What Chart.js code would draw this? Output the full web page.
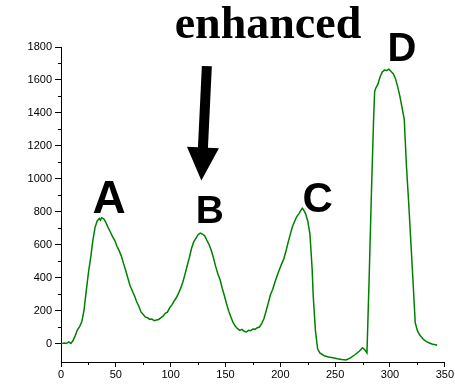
<!DOCTYPE html>
<html>
  <head>
    <title>Peaks</title>
    <script src="https://cdn.jsdelivr.net/npm/chart.js"></script>
    <style>
      body { margin: 0; background: #fff; }
      #wrap { width: 455px; height: 386px; position: relative; }
    </style>
  </head>
  <body>
    <div id="wrap"><canvas id="peaks"></canvas></div>
    <script>
      // channel positions and intensities
      const xs = [0, 3, 5, 7, 9, 11, 13, 15, 17, 19, 21, 23, 25, 27, 29, 31, 33, 35, 36, 37, 39, 41, 43, 45, 47, 49,
        51, 53, 55, 57, 59, 61, 63, 65, 67, 69, 71, 73, 75, 77, 79, 81, 83, 85, 87, 89, 91, 93, 95, 97, 99,
        101, 103, 105, 107, 109, 111, 113, 115, 117, 119, 121, 123, 125, 127, 129, 131, 133, 135, 137, 139,
        141, 143, 145, 147, 149, 151, 153, 155, 157, 159, 161, 163, 165, 167, 169, 171, 173, 175, 177, 179,
        181, 183, 185, 187, 189, 191, 193, 195, 197, 199, 201, 203, 205, 207, 209, 211, 213, 215, 217, 219,
        220, 221, 223, 225, 227, 229, 230, 232, 234, 236, 240, 244, 248, 252, 256, 260, 264, 268, 272, 275,
        277, 279, 281, 283, 285, 286, 287, 289, 291, 293, 295, 297, 299, 301, 303, 305, 307, 309, 311, 313,
        315, 317, 319, 321, 323, 325, 327, 329, 331, 333, 335, 337, 339, 341, 343]
      const ys = [0, 5, 2, 12, 3, 20, 50, 85, 105, 135, 205, 320, 430, 520, 625, 705, 745, 760, 750, 765, 758, 735, 705, 678, 650, 628,
        592, 565, 532, 488, 445, 398, 352, 322, 292, 255, 228, 192, 178, 162, 158, 148, 150, 140, 145, 148, 158, 168, 185, 192, 218,
        235, 258, 278, 305, 335, 372, 420, 472, 522, 578, 618, 640, 662, 672, 666, 655, 628, 602, 568, 522,
        470, 425, 390, 338, 292, 242, 198, 162, 128, 106, 92, 82, 88, 76, 72, 82, 80, 90, 88, 98,
        102, 122, 152, 198, 248, 298, 330, 372, 412, 448, 482, 512, 558, 612, 662, 710, 742, 772, 790, 812,
        822, 815, 790, 745, 665, 455, 290, 80, -30, -55, -72, -80, -84, -90, -95, -98, -85, -66, -45, -24,
        -36, -55, 400, 900, 1350, 1530, 1550, 1575, 1620, 1648, 1660, 1658, 1665, 1652, 1638, 1608, 1560, 1502, 1432, 1362,
        1080, 860, 620, 380, 128, 80, 55, 38, 24, 15, 8, 2, -2, -4, -8]

      const xTicks = [0, 50, 100, 150, 200, 250, 300, 350]
      const yTicks = [0, 200, 400, 600, 800, 1000, 1200, 1400, 1600, 1800]

      // labels placed in data coordinates
      const peakLabels = ['A', 'B', 'C', 'D']
      const peakLabelX = [43.8, 135.8, 234, 311]
      const peakLabelY = [796, 735, 802, 1714]
      const peakLabelSize = [46, 39, 42, 40]

      const lineColor = '#008000'
      const tickFont = { family: 'Arial, "Liberation Sans"', size: 11 }

      const annotate = {
        id: 'annotate',
        afterDraw(chart) {
          const ctx = chart.ctx
          const x = chart.scales.x
          const y = chart.scales.y
          ctx.save()

          // minor ticks
          ctx.strokeStyle = '#000'
          ctx.lineWidth = 1
          ctx.beginPath()
          for (let v = 100; v < 1800; v += 200) {
            const py = Math.round(y.getPixelForValue(v)) + 0.5
            ctx.moveTo(x.left - 3, py)
            ctx.lineTo(x.left, py)
          }
          for (let v = 25; v < 350; v += 50) {
            const px = Math.round(x.getPixelForValue(v)) + 0.5
            ctx.moveTo(px, y.bottom)
            ctx.lineTo(px, y.bottom + 3)
          }
          ctx.stroke()

          ctx.fillStyle = '#000'
          ctx.textAlign = 'center'
          ctx.textBaseline = 'alphabetic'
          peakLabels.forEach((t, i) => {
            ctx.font = 'bold ' + peakLabelSize[i] + 'px Arial, "Liberation Sans"'
            ctx.fillText(t, x.getPixelForValue(peakLabelX[i]), y.getPixelForValue(peakLabelY[i]))
          })

          ctx.font = 'bold 46px "Times New Roman", "Liberation Serif"'
          ctx.fillText('enhanced', x.getPixelForValue(188.7), y.getPixelForValue(1854))

          // arrow pointing at peak B
          const x0 = x.getPixelForValue(133), y0 = y.getPixelForValue(1684)
          const x1 = x.getPixelForValue(128), y1 = y.getPixelForValue(991)
          const ang = Math.atan2(y1 - y0, x1 - x0)
          const headLen = 33, headHalf = 16, shaftHalf = 5
          const bx = x1 - headLen * Math.cos(ang), by = y1 - headLen * Math.sin(ang)
          const nx = -Math.sin(ang), ny = Math.cos(ang)
          ctx.beginPath()
          ctx.moveTo(x0 + nx * shaftHalf, y0 + ny * shaftHalf)
          ctx.lineTo(bx + nx * shaftHalf, by + ny * shaftHalf)
          ctx.lineTo(bx + nx * headHalf, by + ny * headHalf)
          ctx.lineTo(x1, y1)
          ctx.lineTo(bx - nx * headHalf, by - ny * headHalf)
          ctx.lineTo(bx - nx * shaftHalf, by - ny * shaftHalf)
          ctx.lineTo(x0 - nx * shaftHalf, y0 - ny * shaftHalf)
          ctx.closePath()
          ctx.fill()
          ctx.restore()
        }
      }

      new Chart(document.getElementById('peaks'), {
        type: 'line',
        data: {
          datasets: [{
            data: xs.map((v, i) => ({ x: v, y: ys[i] })),
            borderColor: lineColor,
            borderWidth: 1.5,
            pointRadius: 0,
            tension: 0,
            fill: false
          }]
        },
        options: {
          responsive: true,
          maintainAspectRatio: false,
          animation: false,
          layout: { padding: { top: 47, right: 10, left: 0, bottom: 0 } },
          plugins: { legend: { display: false }, tooltip: { enabled: false } },
          scales: {
            x: {
              type: 'linear',
              min: 0,
              max: 350,
              afterBuildTicks: s => { s.ticks = xTicks.map(v => ({ value: v })) },
              afterFit: s => { s.height = 24 },
              grid: { drawOnChartArea: false, drawTicks: true, tickLength: 5, tickColor: '#000' },
              border: { display: true, color: '#000', width: 1 },
              ticks: { color: '#000', font: tickFont, padding: 1, maxRotation: 0, callback: v => String(v) }
            },
            y: {
              type: 'linear',
              min: -110,
              max: 1800,
              afterBuildTicks: s => { s.ticks = yTicks.map(v => ({ value: v })) },
              afterFit: s => { s.width = 61 },
              grid: { drawOnChartArea: false, drawTicks: true, tickLength: 6, tickColor: '#000' },
              border: { display: true, color: '#000', width: 1 },
              ticks: { color: '#000', font: tickFont, padding: 3, callback: v => String(v) }
            }
          }
        },
        plugins: [annotate]
      })
    </script>
  </body>
</html>
